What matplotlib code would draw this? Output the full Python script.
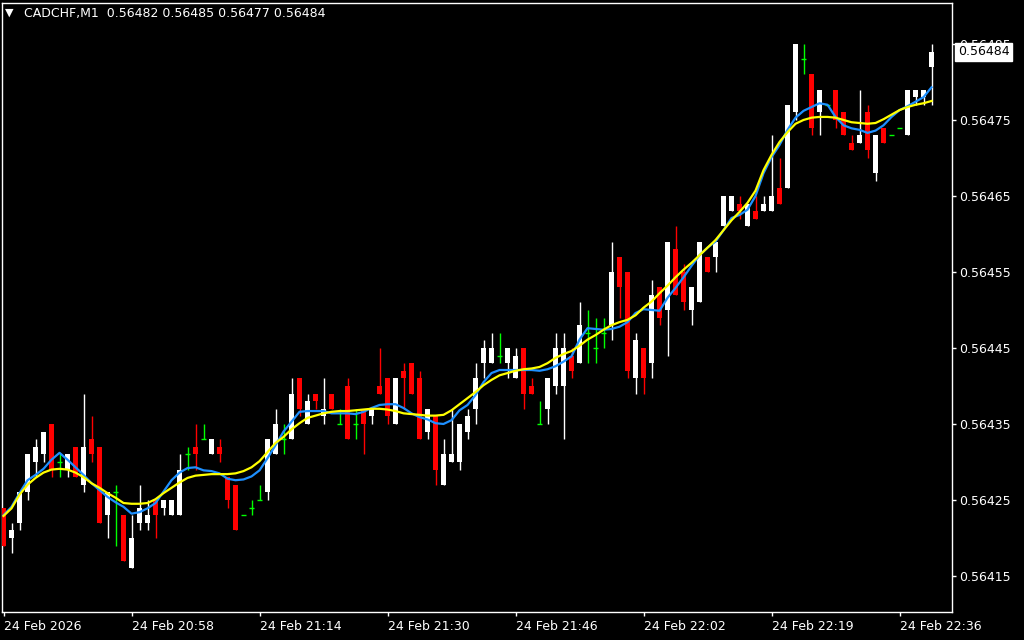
import numpy as np
import matplotlib.pyplot as plt
import matplotlib.transforms as mtransforms

# prices kept in points above 0.56400 (1 point = 0.00001)
base = 0.56400
pt = 0.00001

opens = [24, 20, 22, 26, 30, 31, 35, 30, 29, 32, 27, 33, 32, 23, 26, 23, 16, 22, 22, 25,
         24, 23, 23, 31, 32, 33, 31, 32, 28, 27, 23, 24, 25, 26, 31, 33, 33, 41, 35, 39,
         36, 39, 35, 40, 35, 37, 36, 40, 41, 35, 42, 43, 41, 34, 36, 27, 30, 30, 34, 37,
         43, 43, 44, 43, 41, 45, 40, 35, 37, 40, 40, 44, 43, 47, 45, 47, 48, 57, 55, 41,
         45, 43, 53, 50, 58, 55, 50, 51, 57, 57, 61, 63, 64, 61, 63, 63, 63, 66, 66, 76,
         83, 81, 76, 77, 79, 76, 72, 72, 76, 68, 74, 73, 74, 73, 78, 78, 82]
highs = [24, 22, 26, 31, 33, 34, 35, 31, 31, 32, 39, 36, 32, 26, 27, 23, 23, 27, 25, 25,
         25, 25, 31, 32, 35, 35, 33, 33, 28, 27, 23, 25, 27, 33, 37, 35, 41, 41, 39, 39,
         41, 39, 37, 41, 37, 37, 37, 45, 41, 41, 43, 43, 42, 37, 36, 33, 37, 35, 37, 43,
         46, 47, 47, 45, 45, 45, 41, 38, 41, 47, 47, 45, 51, 50, 49, 49, 59, 57, 55, 47,
         45, 54, 53, 59, 61, 56, 53, 59, 57, 59, 65, 65, 65, 64, 65, 65, 73, 70, 77, 85,
         85, 81, 79, 77, 79, 76, 73, 79, 77, 73, 74, 73, 74, 79, 79, 79, 85]
lows = [19, 18, 21, 25, 28, 30, 28, 28, 28, 28, 26, 30, 22, 20, 19, 17, 16, 21, 21, 20,
        23, 23, 23, 29, 29, 33, 31, 30, 24, 21, 23, 23, 25, 25, 31, 31, 33, 36, 35, 37,
        35, 37, 35, 33, 33, 31, 35, 39, 35, 35, 37, 39, 33, 33, 27, 27, 30, 29, 33, 35,
        41, 43, 43, 41, 41, 37, 39, 35, 35, 39, 33, 41, 43, 43, 43, 45, 46, 49, 41, 39,
        39, 41, 48, 44, 52, 50, 48, 51, 55, 55, 61, 63, 62, 61, 62, 63, 63, 64, 66, 75,
        81, 73, 73, 77, 74, 73, 71, 72, 70, 67, 72, 73, 74, 73, 77, 77, 77]
closes = [19, 21, 26, 31, 32, 34, 29, 30, 31, 28, 32, 31, 22, 26, 26, 17, 20, 24, 23, 23,
          25, 25, 29, 31, 31, 33, 33, 31, 25, 21, 23, 24, 25, 33, 35, 33, 39, 37, 38, 38,
          37, 37, 35, 33, 35, 35, 37, 39, 36, 41, 41, 39, 33, 37, 29, 31, 31, 35, 36, 41,
          45, 45, 44, 45, 44, 39, 39, 35, 41, 45, 45, 42, 48, 47, 45, 47, 55, 53, 42, 46,
          41, 52, 49, 59, 52, 51, 53, 59, 55, 59, 65, 65, 63, 64, 62, 64, 65, 64, 77, 85,
          83, 74, 79, 77, 75, 73, 71, 73, 71, 73, 72, 73, 74, 79, 79, 79, 84]

# indicator lines (points above 0.56400)
ma_blue = [23.0, 24.1, 25.9, 27.6, 28.3, 29.1, 30.3, 31.2, 30.3, 29.3, 28.3, 27.2, 26.3, 25.4, 24.7, 24.1, 23.2,
           23.4, 23.9, 24.6, 26.1, 27.6, 28.6, 29.2, 29.3, 28.9, 28.8, 28.5, 27.8, 27.6, 27.7, 28.1,
           28.9, 30.5, 32.2, 34.0, 35.3, 36.6, 36.7, 36.7, 36.7, 36.4, 36.4, 36.4, 36.3, 36.6, 37.1, 37.5,
           37.6, 37.6, 37.1, 36.4, 35.9, 35.6, 35.1, 35.0, 35.5, 36.8, 37.5, 38.8, 40.5, 41.7, 42.1,
           42.1, 42.1, 42.1, 42.1, 42.0, 42.2, 42.6, 43.2, 43.9, 46.1, 47.6, 47.5, 47.4, 47.5, 47.8, 48.4,
           49.6, 50.1, 50.0, 49.9, 51.6, 52.9, 54.3, 55.8, 57.2, 58.2, 59.0, 60.5, 62.1, 62.5, 63.2, 65.0,
           68.0, 70.1, 71.7, 73.7, 75.3, 76.2, 76.7, 77.2, 77.0, 75.4, 74.3, 73.9, 73.7, 73.3, 73.6,
           74.3, 75.4, 76.3, 76.8, 77.4, 78.0, 79.3]
ma_yellow = [22.9, 23.9, 25.7, 27.0, 27.9, 28.6, 29.0, 29.1, 29.0, 28.6, 28.0, 27.2, 26.6, 25.9, 25.3, 24.6, 24.5,
             24.5, 24.6, 25.1, 25.9, 26.6, 27.3, 27.9, 28.2, 28.3, 28.4, 28.4, 28.4, 28.5, 28.8, 29.3,
             30.1, 31.3, 32.5, 33.3, 34.3, 35.1, 35.8, 36.1, 36.4, 36.6, 36.7, 36.7, 36.8, 36.9, 37.0, 37.0,
             36.9, 36.7, 36.4, 36.3, 36.2, 36.1, 36.1, 36.2, 36.8, 37.6, 38.4, 39.2, 40.1, 40.8, 41.4,
             41.7, 42.0, 42.2, 42.3, 42.5, 43.0, 43.7, 44.2, 44.6, 45.3, 46.1, 46.7, 47.4, 48.0, 48.4, 48.7,
             49.3, 50.3, 51.1, 52.2, 53.2, 54.3, 55.3, 56.2, 57.2, 58.2, 59.2, 60.5, 61.8, 62.9, 64.1, 65.7,
             68.4, 70.4, 72.1, 73.4, 74.5, 75.0, 75.3, 75.4, 75.4, 75.3, 75.0, 74.7, 74.6, 74.5, 74.6,
             75.1, 75.7, 76.3, 76.7, 77.0, 77.2, 77.5]

tick_pos = [0, 16, 32, 48, 64, 80, 96, 112]
tick_labels = ['24 Feb 2026', '24 Feb 20:58', '24 Feb 21:14', '24 Feb 21:30',
               '24 Feb 21:46', '24 Feb 22:02', '24 Feb 22:19', '24 Feb 22:36']
price_levels = [0.56415, 0.56425, 0.56435, 0.56445, 0.56455, 0.56465, 0.56475, 0.56485]
header = 'CADCHF,M1  0.56482 0.56485 0.56477 0.56484'

o = base + np.array(opens) * pt
h = base + np.array(highs) * pt
l = base + np.array(lows) * pt
c = base + np.array(closes) * pt
x = np.arange(len(o))

fig = plt.figure(figsize=(10.24, 6.4), dpi=100, facecolor='black')
W, H = 1024, 640
ax = fig.add_axes([2 / W, 1 - 612 / H, 950 / W, 609 / H], facecolor='black')

up = c > o
dn = c < o
dj = c == o

# wicks
ax.vlines(x[up], l[up], h[up], color='white', lw=1, zorder=2)
ax.vlines(x[dn], l[dn], h[dn], color='#ff0000', lw=1, zorder=2)
ax.vlines(x[dj], l[dj], h[dj], color='#00ff00', lw=1, zorder=2)
# bodies
bw = 0.62
ax.bar(x[up], (c - o)[up], bottom=o[up], width=bw, color='white', lw=0, zorder=3)
ax.bar(x[dn], (o - c)[dn], bottom=c[dn], width=bw, color='#ff0000', lw=0, zorder=3)
ax.hlines(o[dj], x[dj] - bw / 2, x[dj] + bw / 2, color='#00ff00', lw=1, zorder=3)

# indicators
ax.plot(x, base + np.array(ma_blue) * pt, color='#1e90ff', lw=1.6, zorder=4)
ax.plot(x, base + np.array(ma_yellow) * pt, color='#ffff00', lw=1.6, zorder=5)

ax.set_xlim(-0.19, 118.56)
ax.set_ylim(0.5641026, 0.5649039)

for s in ax.spines.values():
    s.set_color('white')
    s.set_linewidth(1)

ax.yaxis.tick_right()
ax.set_yticks(price_levels)
ax.set_yticklabels([f'{p:.5f}' for p in price_levels])
ax.set_xticks(tick_pos)
ax.set_xticklabels(tick_labels, ha='left')
ax.tick_params(colors='white', labelcolor='white', labelsize=9, length=3, width=1, direction='out', pad=2)
ax.tick_params(axis='x', pad=3)

# current price marker
trans = mtransforms.blended_transform_factory(ax.transAxes, ax.transData)
ax.text(1.006, c[-1], f'{c[-1]:.5f}', transform=trans, color='black', fontsize=9,
        va='center', ha='left', zorder=10,
        bbox=dict(boxstyle='square,pad=0.2', fc='white', ec='white'))

# header
fig.text(5 / W, 1 - 13 / H, '\u25bc', color='white', fontsize=8, va='center', ha='left')
fig.text(24 / W, 1 - 13 / H, header, color='white', fontsize=9, va='center', ha='left')

fig.savefig('out.png', dpi=100, facecolor='black')
